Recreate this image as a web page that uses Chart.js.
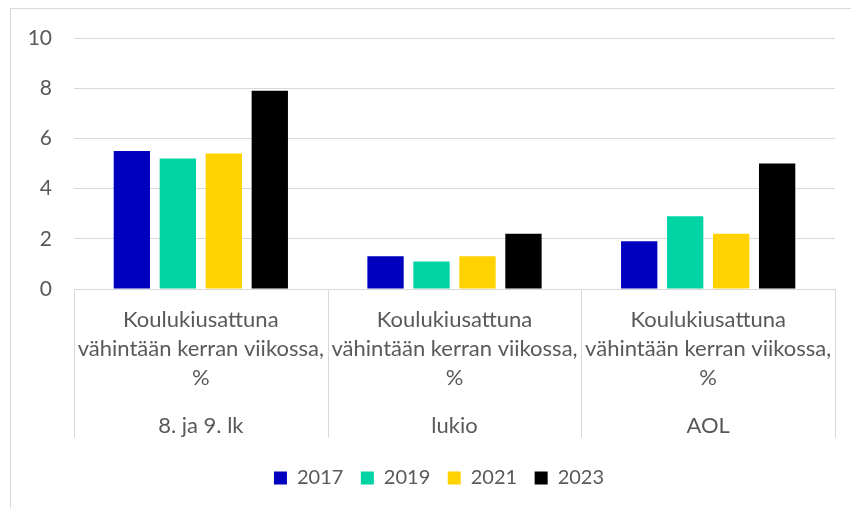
<!DOCTYPE html>
<html>
<head>
<meta charset="utf-8">
<script src="https://cdn.jsdelivr.net/npm/chart.js@4"></script>
<style>
  body { margin: 0; background: #fff; }
  #frame {
    position: absolute;
    left: 10px;
    top: 8px;
    border-top: 1px solid #d9d9d9;
    border-left: 1px solid #d9d9d9;
  }
  canvas { display: block; }
</style>
</head>
<body>
<div id="frame">
  <canvas id="barChart" width="840" height="499"></canvas>
</div>
<script>
const categories = ["8. ja 9. lk", "lukio", "AOL"];
const indicatorLabel = ["Koulukiusattuna", "vähintään kerran viikossa,", "%"];
const years = ["2017", "2019", "2021", "2023"];
const values2017 = [5.5, 1.3, 1.9];
const values2019 = [5.2, 1.1, 2.9];
const values2021 = [5.4, 1.3, 2.2];
const values2023 = [7.9, 2.2, 5.0];
const yMin = 0;
const yMax = 10;
const yStep = 2;

const colors = ["#0000bf", "#00d4a4", "#ffd200", "#000000"];
const textColor = "#595959";
const lineColor = "#d9d9d9";
const font = { family: "Lato", size: 22 };

// vertical lines between categories under the axis
const separators = {
  id: "separators",
  afterDraw(chart) {
    const xs = chart.scales.x;
    const ctx = chart.ctx;
    const depth = xs.height + chart.scales.x2.height - 12.5;
    ctx.save();
    ctx.strokeStyle = lineColor;
    ctx.lineWidth = 1;
    for (let i = 0; i <= categories.length; i++) {
      let px;
      if (i === 0) px = xs.left;
      else if (i === categories.length) px = xs.right;
      else px = (xs.getPixelForTick(i - 1) + xs.getPixelForTick(i)) / 2;
      px = Math.round(px) + 0.5;
      ctx.beginPath();
      ctx.moveTo(px, xs.top);
      ctx.lineTo(px, xs.top + depth);
      ctx.stroke();
    }
    ctx.restore();
  },
};

const seriesValues = [values2017, values2019, values2021, values2023];

new Chart(document.getElementById("barChart"), {
  type: "bar",
  data: {
    labels: categories,
    datasets: years.map((year, i) => ({
      label: year,
      data: seriesValues[i],
      backgroundColor: colors[i],
      borderWidth: 0,
      categoryPercentage: 0.725,
      barPercentage: 0.79,
    })),
  },
  options: {
    responsive: false,
    animation: false,
    layout: { padding: { top: 29, right: 0, left: 16, bottom: 10 } },
    plugins: {
      tooltip: { enabled: false },
      legend: {
        position: "bottom",
        labels: {
          boxWidth: 13,
          boxHeight: 13,
          padding: 17.5,
          color: textColor,
          font: { family: "Lato", size: 20 },
        },
      },
    },
    scales: {
      y: {
        min: yMin,
        max: yMax,
        ticks: { stepSize: yStep, color: textColor, font: { family: "Lato", size: 21 }, padding: 2 },
        grid: { color: lineColor, drawTicks: true, tickLength: 20, tickColor: "rgba(0,0,0,0)" },
        border: { display: false },
        afterFit: (scale) => { scale.width = 47; },
      },
      // empty right margin so the legend centres like the original
      yRight: {
        position: "right",
        ticks: { display: false },
        grid: { display: false },
        border: { display: false },
        afterFit: (scale) => { scale.width = 16; },
      },
      x: {
        labels: categories.map(() => indicatorLabel),
        offset: true,
        ticks: {
          color: textColor,
          font: { family: "Lato", size: 22, lineHeight: 1.32 },
          maxRotation: 0,
          minRotation: 0,
          autoSkip: false,
          padding: 8,
        },
        grid: { display: false },
        border: { display: true, color: lineColor },
        afterFit: (scale) => { scale.height = 111; },
      },
      x2: {
        type: "category",
        position: "bottom",
        labels: categories,
        offset: true,
        ticks: { color: textColor, font: font, maxRotation: 0, autoSkip: false, padding: 5 },
        grid: { display: false },
        border: { display: false },
        afterFit: (scale) => { scale.height = 50.5; },
      },
    },
  },
  plugins: [separators],
});
</script>
</body>
</html>
